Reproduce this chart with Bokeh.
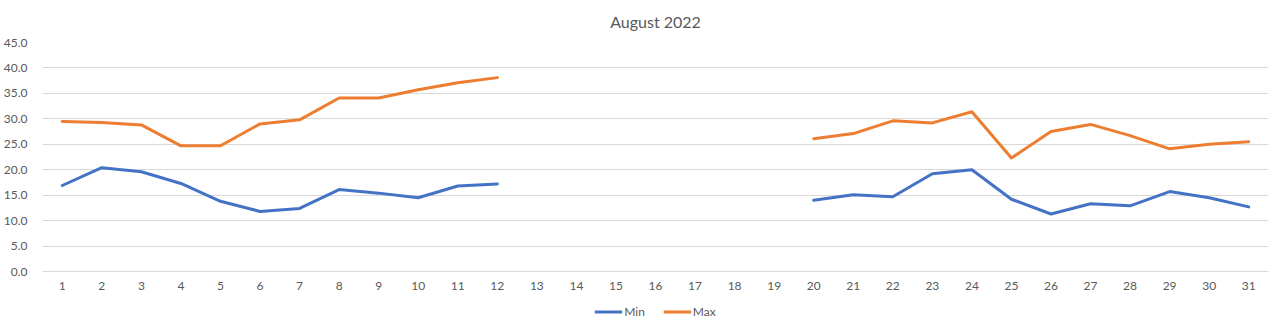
import numpy as np
from bokeh.plotting import figure
from bokeh.layouts import column
from bokeh.models import Range1d, FixedTicker, Legend, LegendItem, NumeralTickFormatter, ColumnDataSource
from bokeh.embed import file_html
from bokeh.resources import INLINE

days = list(range(1, 32))
nan = float("nan")
min_vals = [16.9, 20.4, 19.6, 17.3, 13.8, 11.8, 12.4, 16.1, 15.4, 14.5, 16.8, 17.2,
            nan, nan, nan, nan, nan, nan, nan,
            14.0, 15.1, 14.7, 19.2, 20.0, 14.2, 11.3, 13.3, 12.9, 15.7, 14.5, 12.7]
max_vals = [29.5, 29.3, 28.8, 24.7, 24.7, 29.0, 29.8, 34.1, 34.1, 35.7, 37.1, 38.1,
            nan, nan, nan, nan, nan, nan, nan,
            26.1, 27.1, 29.6, 29.2, 31.4, 22.3, 27.5, 28.9, 26.7, 24.1, 25.0, 25.5]
y_ticks = [0, 5, 10, 15, 20, 25, 30, 35, 40, 45]
title_text = "August 2022"
series_names = ["Min", "Max"]

FONT = "Lato"
GRAY = "#595959"
C_MIN = "#4472C4"
C_MAX = "#ED7D31"

src = ColumnDataSource(dict(day=days, mn=min_vals, mx=max_vals))

p = figure(width=1275, height=292, output_backend="svg", toolbar_location=None,
           x_range=Range1d(0.5, 31.5), y_range=Range1d(0, 45),
           min_border_left=40, min_border_right=7, min_border_top=42, min_border_bottom=21)
p.outline_line_color = None
p.background_fill_color = "white"
p.border_fill_color = "white"

p.title.text = title_text
p.title.align = "center"
p.title.vertical_align = "top"
p.title.text_font = FONT
p.title.text_font_size = "16px"
p.title.text_font_style = "normal"
p.title.text_color = GRAY
p.title.standoff = 19

p.xgrid.grid_line_color = None
p.ygrid.grid_line_color = "#d9d9d9"
p.ygrid.grid_line_width = 1

p.yaxis.ticker = FixedTicker(ticks=y_ticks)
p.yaxis.formatter = NumeralTickFormatter(format="0.0")
p.xaxis.ticker = FixedTicker(ticks=days)
for ax in (p.xaxis, p.yaxis):
    ax.axis_line_color = None
    ax.major_tick_line_color = None
    ax.minor_tick_line_color = None
    ax.major_label_text_font = FONT
    ax.major_label_text_font_size = "12px"
    ax.major_label_text_color = GRAY
p.xaxis.axis_line_color = "#d9d9d9"
p.yaxis.major_label_standoff = 9
p.xaxis.major_label_standoff = 4

p.line("day", "mn", source=src, line_color=C_MIN, line_width=3, line_join="round", line_cap="round")
p.line("day", "mx", source=src, line_color=C_MAX, line_width=3, line_join="round", line_cap="round")

# legend strip below the chart (series drawn out of view, only legend swatches show)
lg = figure(width=1275, height=38, output_backend="svg", toolbar_location=None,
            x_range=Range1d(100, 101), y_range=Range1d(100, 101),
            min_border_left=0, min_border_right=0, min_border_top=0, min_border_bottom=0)
lg.outline_line_color = None
lg.axis.visible = False
lg.grid.visible = False
l1 = lg.line("day", "mn", source=src, line_color=C_MIN, line_width=3)
l2 = lg.line("day", "mx", source=src, line_color=C_MAX, line_width=3)
legend = Legend(items=[LegendItem(label=series_names[0], renderers=[l1]),
                       LegendItem(label=series_names[1], renderers=[l2])],
                orientation="horizontal", location="center",
                label_text_font=FONT, label_text_font_size="12px", label_text_color=GRAY,
                glyph_width=28, glyph_height=12, label_standoff=2, spacing=18,
                border_line_color=None, background_fill_alpha=0, padding=0, margin=0)
lg.add_layout(legend)

layout = column(p, lg, spacing=0)
open("out.html", "w").write(file_html(layout, INLINE))
